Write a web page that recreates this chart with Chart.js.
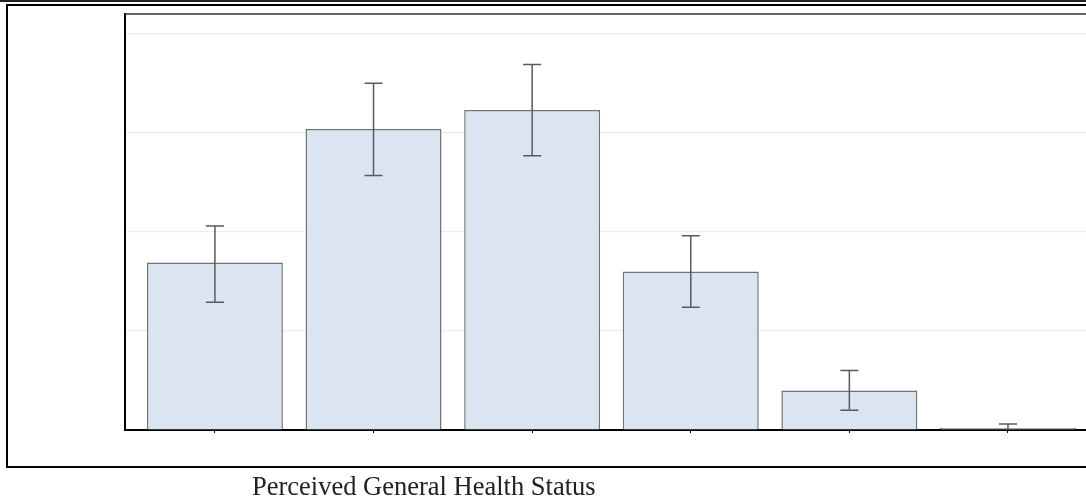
<!DOCTYPE html>
<html>
<head>
<meta charset="utf-8">
<script src="https://cdn.jsdelivr.net/npm/chart.js@4.4.1/dist/chart.umd.min.js"></script>
<style>
  html, body { margin: 0; padding: 0; background: #fff; overflow: hidden; }
  #wrap { position: relative; width: 1086px; height: 499px; }
  #band { position: absolute; left: 0; top: 0; width: 1086px; height: 2px; background: #222; }
  #frame { position: absolute; left: 6px; top: 4px; width: 1100px; height: 460px;
           border: 2px solid #000; border-right: none; }
  #chartBox { position: absolute; left: 0; top: 0; width: 1086px; height: 499px; }
  #xtitle { position: absolute; left: 252px; top: 473px; font-family: "Liberation Serif", "Times New Roman", serif;
            font-size: 26.5px; line-height: 1; color: #222; white-space: nowrap; }
</style>
</head>
<body>
<div id="wrap">
  <div id="band"></div>
  <div id="frame"></div>
  <div id="chartBox"><canvas id="myChart"></canvas></div>
  <div id="xtitle">Perceived General Health Status</div>
</div>
<script>
// categories are unlabeled in the picture, one per bar
const positions = [0, 1, 2, 3, 4, 5];
const values = [16.9, 30.4, 32.3, 16.0, 4.0, 0.2];
const errLow = [12.9, 25.7, 27.7, 12.4, 2.0, 0.0];
const errHigh = [20.6, 35.0, 36.9, 19.6, 6.0, 0.6];
const yTicks = [0, 10, 20, 30, 40];

// draws the error bars and the top frame line of the plot
const errorBars = {
  id: 'errorBars',
  afterDatasetsDraw(chart) {
    const { ctx, scales: { x, y }, chartArea } = chart;
    ctx.save();
    ctx.strokeStyle = '#5a5a5a';
    ctx.lineWidth = 1.5;
    positions.forEach((p, i) => {
      const px = x.getPixelForValue(p);
      const lo = y.getPixelForValue(errLow[i]);
      const hi = y.getPixelForValue(errHigh[i]);
      ctx.beginPath();
      ctx.moveTo(px, lo); ctx.lineTo(px, hi);
      ctx.moveTo(px - 9, hi); ctx.lineTo(px + 9, hi);
      if (errLow[i] > 0) { ctx.moveTo(px - 9, lo); ctx.lineTo(px + 9, lo); }
      ctx.stroke();
    });
    ctx.strokeStyle = '#333';
    ctx.lineWidth = 1.5;
    ctx.beginPath();
    ctx.moveTo(chartArea.left, chartArea.top);
    ctx.lineTo(chartArea.right, chartArea.top);
    ctx.stroke();
    ctx.restore();
  }
};

const ctx_bar = document.getElementById('myChart').getContext('2d');
new Chart(ctx_bar, {
  type: 'bar',
  data: {
    datasets: [
      {
        label: 'Perceived General Health Status',
        data: positions.map((p, i) => ({ x: p, y: values[i] })),
        backgroundColor: '#dbe5f1',
        borderColor: '#737373',
        borderWidth: 1.5,
        barPercentage: 0.857,
        categoryPercentage: 1,
      },
    ],
  },
  options: {
    responsive: true,
    maintainAspectRatio: false,
    animation: false,
    layout: { padding: { left: 125, top: 14, right: 0, bottom: 69 } },
    plugins: { legend: { display: false }, tooltip: { enabled: false } },
    scales: {
      x: {
        type: 'linear',
        offset: false,
        min: -0.567,
        max: 5.492,
        afterBuildTicks: (s) => { s.ticks = positions.map(v => ({ value: v })); },
        afterFit: (s) => { s.height = 0; },
        ticks: { display: false },
        grid: { drawOnChartArea: false, offset: false, color: '#000', tickLength: 3, lineWidth: 1 },
        border: { color: '#000', width: 2 },
      },
      y: {
        min: 0,
        max: 42,
        afterBuildTicks: (s) => { s.ticks = yTicks.map(v => ({ value: v })); },
        afterFit: (s) => { s.width = 0; },
        ticks: { display: false },
        grid: { color: '#ececec', lineWidth: 1.2, drawTicks: false },
        border: { color: '#000', width: 2 },
      },
    },
  },
  plugins: [errorBars],
});
</script>
</body>
</html>
